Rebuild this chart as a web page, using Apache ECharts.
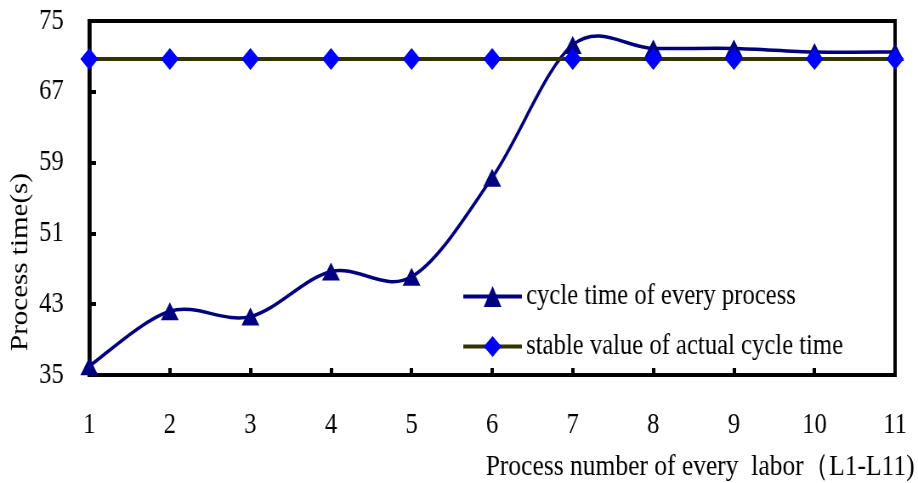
<!DOCTYPE html>
<html>
<head>
<meta charset="utf-8">
<script src="https://cdn.jsdelivr.net/npm/echarts@6/dist/echarts.min.js"></script>
<style>
  html, body { margin: 0; padding: 0; background: #fff; overflow: hidden; }
  /* chart is laid out wide and squeezed horizontally to give narrow serif lettering */
  #chart { width: 1080px; height: 483px; transform: scaleX(0.85); transform-origin: 0 0; }
</style>
</head>
<body>
<div id="chart"></div>
<script>
const processNumbers = ['1', '2', '3', '4', '5', '6', '7', '8', '9', '10', '11'];
const cycleTimes = [36.0, 42.2, 41.6, 46.7, 46.1, 57.3, 72.3, 71.9, 71.9, 71.5, 71.5];
const stableCycleTime = [70.7, 70.7, 70.7, 70.7, 70.7, 70.7, 70.7, 70.7, 70.7, 70.7, 70.7];
const yTicks = { min: 35, max: 75, step: 8 };
const seriesNames = ['cycle time of every process', 'stable value of actual cycle time'];
const yTitle = 'Process time(s)';
const xTitle = 'Process number of every  labor（L1-L11)';

const FONT = "'Liberation Serif', 'Times New Roman', serif";
const NAVY = '#000080';
const OLIVE = '#333300';
const BLUE = '#0000ff';
const chart = echarts.init(document.getElementById('chart'), null, { renderer: 'canvas' });

// Cardinal-spline segment between point i and i+1 (tension 1/6), built from axis coordinates
function splineSegment(params, api) {
  const i = params.dataIndex;
  const n = cycleTimes.length;
  if (i >= n - 1) return null;
  const pt = k => api.coord([Math.min(Math.max(k, 0), n - 1), cycleTimes[Math.min(Math.max(k, 0), n - 1)]]);
  const p0 = pt(i - 1), p1 = pt(i), p2 = pt(i + 1), p3 = pt(i + 2);
  return {
    type: 'bezierCurve',
    shape: {
      x1: p1[0], y1: p1[1],
      x2: p2[0], y2: p2[1],
      cpx1: p1[0] + (p2[0] - p0[0]) / 6, cpy1: p1[1] + (p2[1] - p0[1]) / 6,
      cpx2: p2[0] - (p3[0] - p1[0]) / 6, cpy2: p2[1] - (p3[1] - p1[1]) / 6
    },
    style: { stroke: NAVY, lineWidth: 3.5, fill: null, lineCap: 'round' }
  };
}

chart.setOption({
  backgroundColor: '#ffffff',
  animation: false,
  textStyle: { fontFamily: FONT, color: '#000' },
  grid: {
    left: 105, right: 27, top: 21, bottom: 108,
    show: true, borderColor: '#000', borderWidth: 4, backgroundColor: 'transparent'
  },
  legend: {
    orient: 'vertical',
    left: 538, top: 277,
    itemWidth: 69, itemHeight: 26, itemGap: 21,
    textStyle: { fontFamily: FONT, fontSize: 29, color: '#000', padding: [0, 0, 0, 0] },
    data: [
      { name: seriesNames[0], lineStyle: { color: NAVY, width: 4, opacity: 1 }, itemStyle: { color: NAVY } },
      { name: seriesNames[1], lineStyle: { color: OLIVE, width: 4, opacity: 1 }, itemStyle: { color: BLUE } }
    ]
  },
  xAxis: {
    type: 'category',
    data: processNumbers,
    boundaryGap: false,
    axisLine: { lineStyle: { color: '#000', width: 4 } },
    axisTick: { inside: true, length: 7, lineStyle: { color: '#000', width: 4 } },
    axisLabel: { fontFamily: FONT, fontSize: 29, color: '#000', margin: 36 },
    splitLine: { show: false }
  },
  yAxis: {
    type: 'value',
    min: yTicks.min, max: yTicks.max, interval: yTicks.step,
    axisLine: { show: true, lineStyle: { color: '#000', width: 4.5 } },
    axisTick: { show: true, inside: true, length: 8, lineStyle: { color: '#000', width: 4 } },
    axisLabel: { fontFamily: FONT, fontSize: 29, color: '#000', margin: 30 },
    splitLine: { show: false }
  },
  graphic: [
    {
      type: 'text',
      x: 24, y: 262,
      rotation: Math.PI / 2,
      style: {
        text: yTitle, fontFamily: FONT, fontSize: 29, fill: '#000',
        align: 'center', verticalAlign: 'middle'
      }
    },
    {
      type: 'text',
      right: 4, top: 452,
      style: { text: xTitle, fontFamily: FONT, fontSize: 30, fill: '#000' }
    }
  ],
  series: [
    {
      // smooth curve through the cycle times
      type: 'custom',
      name: 'cycle curve',
      renderItem: splineSegment,
      data: cycleTimes.map((v, i) => [i, v]),
      encode: { x: 0, y: 1 },
      silent: true,
      z: 1
    },
    {
      name: seriesNames[0],
      type: 'line',
      data: cycleTimes,
      symbol: 'triangle',
      symbolSize: [21, 18],
      lineStyle: { color: NAVY, width: 0, opacity: 0 },
      itemStyle: { color: NAVY },
      z: 2
    },
    {
      name: seriesNames[1],
      type: 'line',
      data: stableCycleTime,
      symbol: 'diamond',
      symbolSize: [21, 22],
      lineStyle: { color: OLIVE, width: 4 },
      itemStyle: { color: BLUE },
      z: 3
    }
  ]
});
</script>
</body>
</html>
